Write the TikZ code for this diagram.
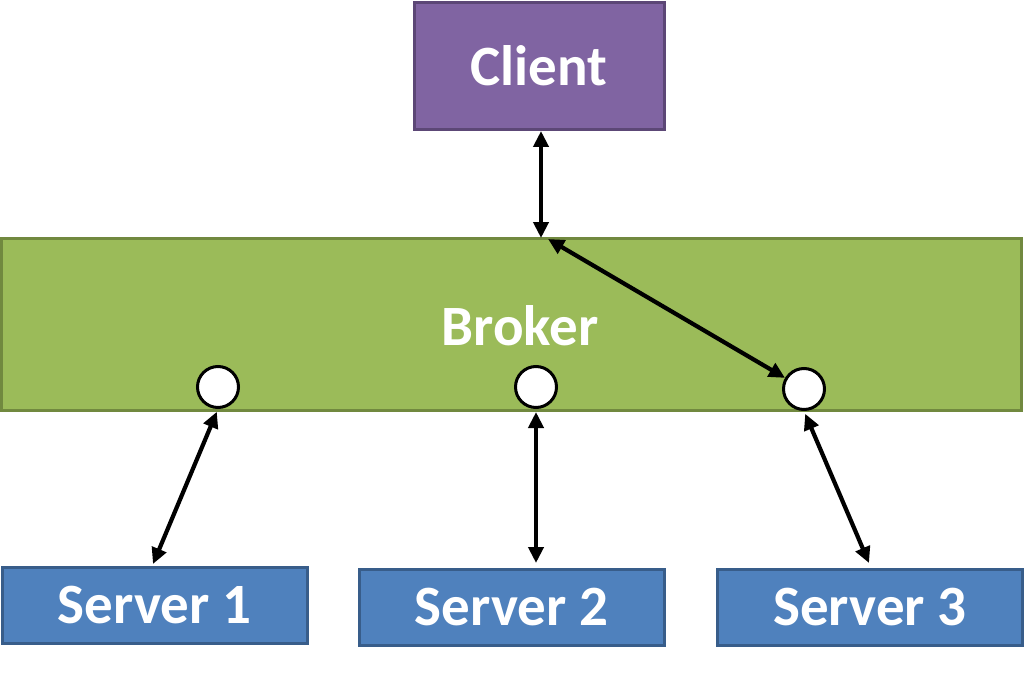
\documentclass[tikz,border=0pt]{standalone}
\usepackage{fontspec}
\setmainfont{Carlito}
\usetikzlibrary{arrows.meta}
\definecolor{cfill}{HTML}{8064A2}
\definecolor{cdraw}{HTML}{5C4776}
\definecolor{bfill}{HTML}{9BBB59}
\definecolor{bdraw}{HTML}{71893F}
\definecolor{sfill}{HTML}{4F81BD}
\definecolor{sdraw}{HTML}{385D8A}
\tikzset{
  box/.style={rectangle, line width=3pt, inner sep=0pt, text=white,
    font=\fontsize{57}{60}\selectfont\bfseries},
  clientbox/.style={box, fill=cfill, draw=cdraw, minimum width=250pt, minimum height=127pt},
  brokerbox/.style={box, fill=bfill, draw=bdraw, minimum width=1020pt, minimum height=172pt},
  serverbox/.style={box, fill=sfill, draw=sdraw, minimum width=305pt, minimum height=76pt},
  port/.style={circle, fill=white, draw=black, line width=3pt, minimum size=41pt, inner sep=0pt},
  link/.style={line width=4.2pt, {Triangle[length=16pt,width=15pt]}-{Triangle[length=16pt,width=15pt]}},
}
\begin{document}
\begin{tikzpicture}[x=1pt,y=-1pt]
\useasboundingbox (0,0) rectangle (1024,679);
\node[clientbox] (client) at (539,66) {Client};
\node[brokerbox] (broker) at (511.5,324.5) {};
\node[box] (brokerlabel) at (520,326) {Broker};
\node[serverbox] (s1) at (154.5,605.5) {Server 1};
\node[serverbox] (s2) at (511.5,607.5) {Server 2};
\node[serverbox] (s3) at (870,607.5) {Server 3};
\node[port] (c1) at (218,387) {};
\node[port] (c2) at (536,387) {};
\node[port] (c3) at (804,389) {};
\coordinate (btop) at (541,238);
\coordinate (bdiag) at (548,239);
\coordinate (a1) at (153,564);
\coordinate (a2) at (536,563);
\coordinate (a3) at (869,563);
\draw[link] (client.south -| btop) -- (btop);
\draw[link] (bdiag) -- (c3);
\draw[link, shorten <=3pt] (c1.south) -- (a1);
\draw[link, shorten <=3pt] (c2.south) -- (a2);
\draw[link, shorten <=3pt] (c3.south) -- (a3);
\end{tikzpicture}
\end{document}
